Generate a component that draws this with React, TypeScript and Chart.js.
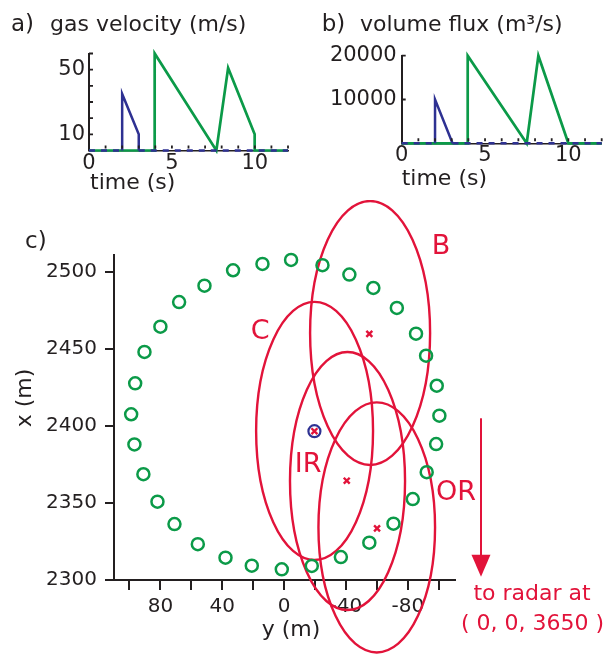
import React, { useEffect, useRef } from 'react';
import { Chart, registerables } from 'chart.js';

Chart.register(...registerables);

const FONT = "'DejaVu Sans', 'Liberation Sans', Arial, sans-serif";
const INK = '#231f20';
const GREEN = '#0b9a48';
const NAVY = '#2e3192';
const RED = '#e2133a';

// ---------- panel a: gas velocity (m/s) ----------
const A_GREEN_T = [0, 3.96, 3.96, 7.68, 8.39, 9.99, 9.99, 12];
const A_GREEN_V = [0, 0, 60, 0, 51, 10, 0, 0];
const A_BLUE_T = [0, 2.0, 2.0, 3.0, 3.0, 12];
const A_BLUE_V = [0, 0, 35, 10, 0, 0];
const A_X_TICKS = [0, 1, 2, 3, 4, 5, 6, 7, 8, 9, 10, 11, 12];
const A_X_LABELS = [0, 5, 10];
const A_Y_TICKS = [10, 20, 30, 40, 50, 60];
const A_Y_LABELS = [10, 50];

// ---------- panel b: volume flux (m3/s) ----------
const B_GREEN_T = [0, 3.96, 3.96, 7.5, 8.2, 10.0, 12];
const B_GREEN_V = [0, 0, 20000, 0, 20000, 0, 0];
const B_BLUE_T = [0, 2.0, 2.0, 3.05, 12];
const B_BLUE_V = [0, 0, 10000, 0, 0];
const B_X_TICKS = [0, 1, 2, 3, 4, 5, 6, 7, 8, 9, 10, 11, 12];
const B_X_LABELS = [0, 5, 10];
const B_Y_TICKS = [0, 10000, 20000];
const B_Y_LABELS = [10000, 20000];

// ---------- panel c: map (horizontal = y (m), vertical = x (m)) ----------
const RING_H = [-4.5, 14.0, 33.0, 51.5, 67.9, 80.0, 90.3, 96.3, 98.9, 96.8, 91.0, 81.9, 70.9, 55.8, 37.9, 20.9, 1.5, -17.9, -36.7, -55.1, -70.7, -83.2, -92.2, -98.3, -100.4, -98.7, -91.8, -85.3, -72.9, -57.7, -42.2, -24.8];
const RING_V = [2507.6, 2505.0, 2500.9, 2490.9, 2480.3, 2464.3, 2447.9, 2427.6, 2407.5, 2387.9, 2368.6, 2350.8, 2336.3, 2323.2, 2314.5, 2309.3, 2306.9, 2309.1, 2314.9, 2324.2, 2336.5, 2352.5, 2369.9, 2388.2, 2406.6, 2426.0, 2445.5, 2459.8, 2476.5, 2489.4, 2498.1, 2504.2];
const MARK_H = [-19.6, -55.1, -40.5, -60.1];
const MARK_V = [2396.5, 2459.6, 2364.4, 2333.5];
const VENT_H = [-19.6];
const VENT_V = [2396.5];
const ELL_NAMES = ['B', 'C', 'IR', 'OR'];
const ELL_H = [-55.6, -19.7, -41.0, -59.9];
const ELL_V = [2460.2, 2396.7, 2364.2, 2334.1];
const ELL_HR = [38.8, 37.8, 37.2, 37.7];
const ELL_VR = [85.6, 83.7, 83.7, 81.1];
const LABEL_H = [-101.5, 15.5, -15.5, -111.2];
const LABEL_V = [2511.5, 2456.3, 2370.1, 2351.9];
const NOTE_TEXT = ['to radar at', '( 0, 0, 3650 )'];
const NOTE_H = [-160.3, -160.6];
const NOTE_V = [2287.0, 2267.6];
const ARROW_H = -127.3;
const ARROW_FROM = 2404.9;
const ARROW_TO = 2302.1;
const C_H_TICKS = [-100, -80, -60, -40, -20, 0, 20, 40, 60, 80, 100];
const C_H_LABELS = [-80, -40, 0, 40, 80];
const C_V_TICKS = [2300, 2350, 2400, 2450, 2500];

type TextItem = {
  text: string; x: number; y: number; size: number; color?: string;
  align?: CanvasTextAlign; baseline?: CanvasTextBaseline; rotate?: number; data?: boolean;
};

function textPlugin(id: string, items: TextItem[]) {
  return {
    id,
    afterDraw(chart: any) {
      const ctx = chart.ctx as CanvasRenderingContext2D;
      items.forEach((it) => {
        let px = it.x;
        let py = it.y;
        if (it.data) {
          px = chart.scales.x.getPixelForValue(it.x);
          py = chart.scales.y.getPixelForValue(it.y);
        }
        ctx.save();
        ctx.font = `${it.size}px ${FONT}`;
        ctx.fillStyle = it.color || INK;
        ctx.textAlign = it.align || 'left';
        ctx.textBaseline = it.baseline || 'alphabetic';
        ctx.translate(px, py);
        if (it.rotate) ctx.rotate(it.rotate);
        ctx.fillText(it.text, 0, 0);
        ctx.restore();
      });
    },
  };
}

function innerTicks(id: string, xVals: number[], yVals: number[]) {
  return {
    id,
    afterDatasetsDraw(chart: any) {
      const { ctx, chartArea, scales } = chart;
      ctx.save();
      ctx.strokeStyle = INK;
      ctx.lineWidth = 1.8;
      ctx.beginPath();
      xVals.forEach((v) => {
        const px = scales.x.getPixelForValue(v);
        ctx.moveTo(px, chartArea.bottom - 2);
        ctx.lineTo(px, chartArea.bottom - 5);
      });
      yVals.forEach((v) => {
        const py = scales.y.getPixelForValue(v);
        ctx.moveTo(chartArea.left, py);
        ctx.lineTo(chartArea.left + 4, py);
      });
      ctx.stroke();
      ctx.restore();
    },
  };
}

const zeroDash = (c: any) => (c.p0.parsed.y === 0 && c.p1.parsed.y === 0 ? [6, 6] : undefined);

function timeChart(
  canvas: HTMLCanvasElement,
  greenT: number[], greenV: number[], blueT: number[], blueV: number[],
  xTicks: number[], xLabels: number[], yTicks: number[], yLabels: number[], yMax: number,
  box: { yWidth: number; right: number; top: number; xHeight: number; xPad: number; yPad: number },
  innerY: number[], texts: TextItem[], id: string,
) {
  return new Chart(canvas, {
    type: 'line',
    data: {
      datasets: [
        {
          data: blueT.map((t, i) => ({ x: t, y: blueV[i] })),
          borderColor: NAVY, borderWidth: 2.5, pointRadius: 0, tension: 0, clip: false as any,
          segment: { borderDash: zeroDash },
        },
        {
          data: greenT.map((t, i) => ({ x: t, y: greenV[i] })),
          borderColor: GREEN, borderWidth: 2.7, pointRadius: 0, tension: 0, clip: false as any,
        },
      ],
    },
    options: {
      responsive: false,
      animation: false,
      events: [],
      layout: { padding: { left: 0, right: box.right, top: box.top, bottom: 0 } },
      plugins: { legend: { display: false }, tooltip: { enabled: false } },
      scales: {
        x: {
          type: 'linear', min: 0, max: 12,
          afterBuildTicks: (s: any) => { s.ticks = xTicks.map((v) => ({ value: v })); },
          afterFit: (s: any) => { s.height = box.xHeight; },
          ticks: {
            autoSkip: false, maxRotation: 0, padding: box.xPad, color: INK,
            font: { family: FONT, size: 21, lineHeight: 1 },
            callback: (v: any) => (xLabels.includes(v) ? String(v) : ''),
          },
          grid: { display: false, drawTicks: false },
          border: { display: true, color: INK, width: 1.5 },
        },
        y: {
          type: 'linear', min: 0, max: yMax,
          afterBuildTicks: (s: any) => { s.ticks = yTicks.map((v) => ({ value: v })); },
          afterFit: (s: any) => { s.width = box.yWidth; },
          ticks: {
            autoSkip: false, padding: box.yPad, color: INK,
            font: { family: FONT, size: 21, lineHeight: 1 },
            callback: (v: any) => (yLabels.includes(v) ? String(v) : ''),
          },
          grid: { display: false, drawTicks: false },
          border: { display: true, color: INK, width: 2 },
        },
      },
    } as any,
    plugins: [innerTicks(id + 'ticks', xTicks.filter((v) => v > 0), innerY), textPlugin(id + 'text', texts)],
  });
}

const mapPlugin = {
  id: 'mapShapes',
  beforeDatasetsDraw(chart: any) {
    const { ctx, scales } = chart;
    const sx = scales.x;
    const sy = scales.y;
    ctx.save();
    ctx.strokeStyle = RED;
    ctx.lineWidth = 2.4;
    ELL_NAMES.forEach((_, i) => {
      const px = sx.getPixelForValue(ELL_H[i]);
      const py = sy.getPixelForValue(ELL_V[i]);
      const rx = Math.abs(sx.getPixelForValue(ELL_H[i] + ELL_HR[i]) - px);
      const ry = Math.abs(sy.getPixelForValue(ELL_V[i] + ELL_VR[i]) - py);
      ctx.beginPath();
      ctx.ellipse(px, py, rx, ry, 0, 0, Math.PI * 2);
      ctx.stroke();
    });
    // arrow toward the radar
    const ax = sx.getPixelForValue(ARROW_H);
    const ay0 = sy.getPixelForValue(ARROW_FROM);
    const ay1 = sy.getPixelForValue(ARROW_TO);
    const head = 22;
    ctx.lineWidth = 2;
    ctx.beginPath();
    ctx.moveTo(ax, ay0);
    ctx.lineTo(ax, ay1 - head + 2);
    ctx.stroke();
    ctx.fillStyle = RED;
    ctx.beginPath();
    ctx.moveTo(ax, ay1);
    ctx.lineTo(ax - 9.5, ay1 - head);
    ctx.lineTo(ax + 9.5, ay1 - head);
    ctx.closePath();
    ctx.fill();
    ctx.restore();
  },
};

function mapChart(canvas: HTMLCanvasElement) {
  const texts: TextItem[] = [
    { text: 'c)', x: 25, y: 48, size: 23 },
    { text: 'x (m)', x: 25, y: 198, size: 22, align: 'center', baseline: 'middle', rotate: -Math.PI / 2 },
    { text: 'y (m)', x: 291, y: 436, size: 22, align: 'center' },
    ...ELL_NAMES.map((n, i) => ({ text: n, x: LABEL_H[i], y: LABEL_V[i], size: 27, color: RED, align: 'center' as CanvasTextAlign, data: true })),
    ...NOTE_TEXT.map((n, i) => ({ text: n, x: NOTE_H[i], y: NOTE_V[i], size: 22, color: RED, align: 'center' as CanvasTextAlign, data: true })),
  ];
  return new Chart(canvas, {
    type: 'scatter',
    data: {
      datasets: [
        {
          data: MARK_H.map((h, i) => ({ x: h, y: MARK_V[i] })),
          pointStyle: 'crossRot', pointRadius: 4.2, borderWidth: 2.4, borderColor: RED,
          backgroundColor: RED, clip: false as any,
        },
        {
          data: VENT_H.map((h, i) => ({ x: h, y: VENT_V[i] })),
          pointStyle: 'circle', pointRadius: 6, borderWidth: 2.2, borderColor: NAVY,
          backgroundColor: 'rgba(0,0,0,0)', clip: false as any,
        },
        {
          data: RING_H.map((h, i) => ({ x: h, y: RING_V[i] })),
          pointStyle: 'circle', pointRadius: 6, borderWidth: 2.5, borderColor: GREEN,
          backgroundColor: 'rgba(0,0,0,0)', clip: false as any,
        },
      ],
    },
    options: {
      responsive: false,
      animation: false,
      events: [],
      layout: { padding: { left: 0, right: 150, top: 55, bottom: 0 } },
      plugins: { legend: { display: false }, tooltip: { enabled: false } },
      scales: {
        x: {
          type: 'linear', reverse: true, min: -110.5, max: 110,
          afterBuildTicks: (s: any) => { s.ticks = C_H_TICKS.map((v) => ({ value: v })); },
          afterFit: (s: any) => { s.height = 76; },
          ticks: {
            autoSkip: false, maxRotation: 0, padding: 7, color: INK,
            font: { family: FONT, size: 20, lineHeight: 1 },
            callback: (v: any) => (C_H_LABELS.includes(v) ? String(v) : ''),
          },
          grid: { display: true, drawOnChartArea: false, drawTicks: true, tickLength: 10, color: INK, lineWidth: 2 },
          border: { display: true, color: INK, width: 2 },
        },
        y: {
          type: 'linear', min: 2300, max: 2510.8,
          afterBuildTicks: (s: any) => { s.ticks = C_V_TICKS.map((v) => ({ value: v })); },
          afterFit: (s: any) => { s.width = 114; },
          ticks: {
            autoSkip: false, padding: 8, color: INK,
            font: { family: FONT, size: 20, lineHeight: 1 },
            callback: (v: any) => String(v),
          },
          grid: { display: true, drawOnChartArea: false, drawTicks: true, tickLength: 9, color: INK, lineWidth: 2 },
          border: { display: true, color: INK, width: 2 },
        },
      },
    } as any,
    plugins: [mapPlugin, textPlugin('mapText', texts)],
  });
}

export default function App() {
  const aRef = useRef<HTMLCanvasElement>(null);
  const bRef = useRef<HTMLCanvasElement>(null);
  const cRef = useRef<HTMLCanvasElement>(null);

  useEffect(() => {
    Chart.defaults.font.family = FONT;
    const ca = timeChart(
      aRef.current!, A_GREEN_T, A_GREEN_V, A_BLUE_T, A_BLUE_V,
      A_X_TICKS, A_X_LABELS, A_Y_TICKS, A_Y_LABELS, 60,
      { yWidth: 89, right: 12, top: 53.5, xHeight: 49.5, xPad: 3, yPad: 4 },
      A_Y_TICKS,
      [
        { text: 'a)', x: 11, y: 31, size: 23 },
        { text: 'gas velocity (m/s)', x: 50, y: 31, size: 22 },
        { text: 'time (s)', x: 90, y: 189, size: 22 },
      ],
      'a',
    );
    const cb = timeChart(
      bRef.current!, B_GREEN_T, B_GREEN_V, B_BLUE_T, B_BLUE_V,
      B_X_TICKS, B_X_LABELS, B_Y_TICKS, B_Y_LABELS, 20000,
      { yWidth: 101.7, right: 3.3, top: 55.7, xHeight: 56.7, xPad: 2, yPad: 5 },
      B_Y_LABELS,
      [
        { text: 'b)', x: 21.7, y: 31, size: 23 },
        { text: 'volume flux (m\u00b3/s)', x: 60, y: 31, size: 22 },
        { text: 'time (s)', x: 101.7, y: 185, size: 22 },
      ],
      'b',
    );
    const cc = mapChart(cRef.current!);
    return () => {
      ca.destroy();
      cb.destroy();
      cc.destroy();
    };
  }, []);

  return (
    <div style={{ position: 'absolute', left: 0, top: 0, width: 605, height: 656, background: '#ffffff', overflow: 'hidden' }}>
      <canvas ref={aRef} width={300} height={200} style={{ position: 'absolute', left: 0, top: 0, width: 300, height: 200 }} />
      <canvas ref={bRef} width={305} height={200} style={{ position: 'absolute', left: 300, top: 0, width: 305, height: 200 }} />
      <canvas ref={cRef} width={605} height={456} style={{ position: 'absolute', left: 0, top: 200, width: 605, height: 456 }} />
    </div>
  );
}
